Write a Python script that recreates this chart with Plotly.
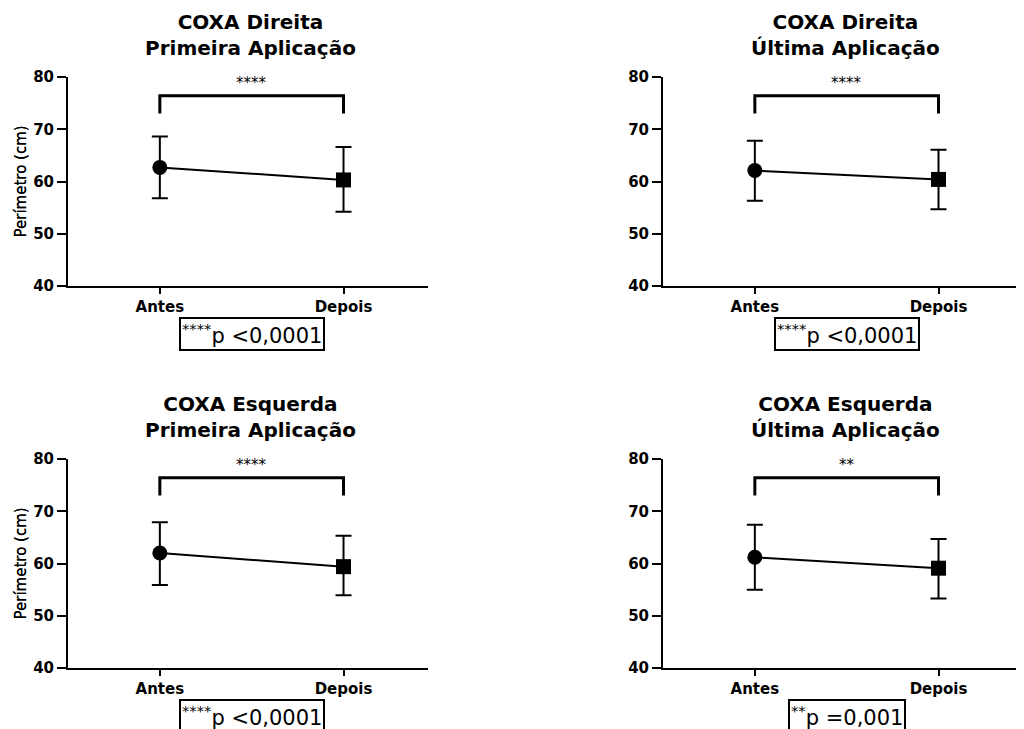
import plotly.graph_objects as go

categories = ["Antes", "Depois"]
titles = [
    "COXA Direita<br>Primeira Aplicação",
    "COXA Direita<br>Última Aplicação",
    "COXA Esquerda<br>Primeira Aplicação",
    "COXA Esquerda<br>Última Aplicação",
]
means = [[62.7, 60.3], [62.1, 60.4], [62.0, 59.4], [61.2, 59.1]]
upper = [[68.6, 66.6], [67.8, 66.1], [67.9, 65.3], [67.4, 64.7]]
lower = [[56.8, 54.2], [56.3, 54.7], [55.9, 53.9], [55.0, 53.3]]
sig_stars = ["****", "****", "****", "**"]
p_texts = ["<sup>****</sup>p <0,0001", "<sup>****</sup>p <0,0001",
           "<sup>****</sup>p <0,0001", "<sup>**</sup>p =0,001"]

W, H = 1024, 729
OFF = 8  # page body margin offset
# pixel boxes of each plot area in screen coords: (x0, x1, ytop, ybottom)
boxes = [(68, 428, 77, 286), (663, 1023, 77, 286),
         (68, 428, 459, 668), (663, 1023, 459, 668)]

FONT = "DejaVu Sans, Arial, sans-serif"
fig = go.Figure()
layout = dict(
    width=W, height=H, margin=dict(l=0, r=0, t=0, b=0, pad=0),
    paper_bgcolor="white", plot_bgcolor="white", showlegend=False,
    font=dict(family=FONT, color="black"),
)


def px(x):
    return (x - OFF) / W


def py(y):
    return 1 - (y - OFF) / H


annotations = []
for i in range(4):
    x0, x1, yt, yb = boxes[i]
    ax = "" if i == 0 else str(i + 1)
    xd = [px(x0), min(px(x1), 1.0)]
    yd = [py(yb), py(yt)]
    layout["xaxis" + ax] = dict(
        domain=xd, range=[-0.5, 1.46], tickvals=[0, 1], ticktext=categories,
        showline=True, linecolor="black", linewidth=2, ticks="outside",
        ticklen=6, tickwidth=2, tickcolor="black", showgrid=False, zeroline=False,
        tickfont=dict(family=FONT, size=15, color="black", weight="bold"),
        anchor="y" + ax, fixedrange=True, automargin=False,
    )
    layout["yaxis" + ax] = dict(
        domain=yd, range=[40, 80], dtick=10, tick0=40,
        showline=True, linecolor="black", linewidth=2, ticks="outside",
        ticklen=9, tickwidth=2, tickcolor="black", showgrid=False, zeroline=False,
        tickfont=dict(family=FONT, size=15, color="black", weight="bold"),
        anchor="x" + ax, fixedrange=True, automargin=False,
    )
    xref, yref = "x" + ax, "y" + ax
    m = means[i]
    fig.add_trace(go.Scatter(
        x=[0, 1], y=m, mode="lines", line=dict(color="black", width=2),
        xaxis=xref, yaxis=yref, hoverinfo="skip"))
    for j, sym in enumerate(["circle", "square"]):
        fig.add_trace(go.Scatter(
            x=[j], y=[m[j]], mode="markers",
            marker=dict(symbol=sym, size=15, color="black"),
            error_y=dict(type="data", symmetric=False,
                         array=[upper[i][j] - m[j]], arrayminus=[m[j] - lower[i][j]],
                         color="black", thickness=2, width=8),
            xaxis=xref, yaxis=yref))
    # significance bracket
    fig.add_trace(go.Scatter(
        x=[0, 0, 1, 1], y=[73.0, 76.4, 76.4, 73.0], mode="lines",
        line=dict(color="black", width=3), xaxis=xref, yaxis=yref, hoverinfo="skip"))
    annotations.append(dict(
        x=0.5, y=76.4, xref=xref, yref=yref, text=sig_stars[i], showarrow=False,
        yanchor="bottom", yshift=2, font=dict(family=FONT, size=15, color="black")))
    # y-axis title
    annotations.append(dict(
        x=px(20), y=py((yt + yb) / 2), xref="paper", yref="paper",
        text="Perímetro (cm)", textangle=-90, showarrow=False,
        xanchor="center", yanchor="middle",
        font=dict(family=FONT, size=15, color="black")))
    # title
    annotations.append(dict(
        x=px(x0 + 182), y=py(yt - 42), xref="paper", yref="paper",
        text="<b>" + titles[i].replace("<br>", "</b><br><b>") + "</b>",
        showarrow=False, xanchor="center", yanchor="middle",
        font=dict(family=FONT, size=20, color="black")))
    # p-value box
    annotations.append(dict(
        x=0.5, y=py(yb + 48), xref=xref, yref="paper", text=p_texts[i],
        showarrow=False, xanchor="center", yanchor="middle",
        bordercolor="black", borderwidth=2, borderpad=1, bgcolor="white",
        font=dict(family=FONT, size=21, color="black")))
layout["annotations"] = annotations
fig.update_layout(**layout)
fig.write_html("out.html")
